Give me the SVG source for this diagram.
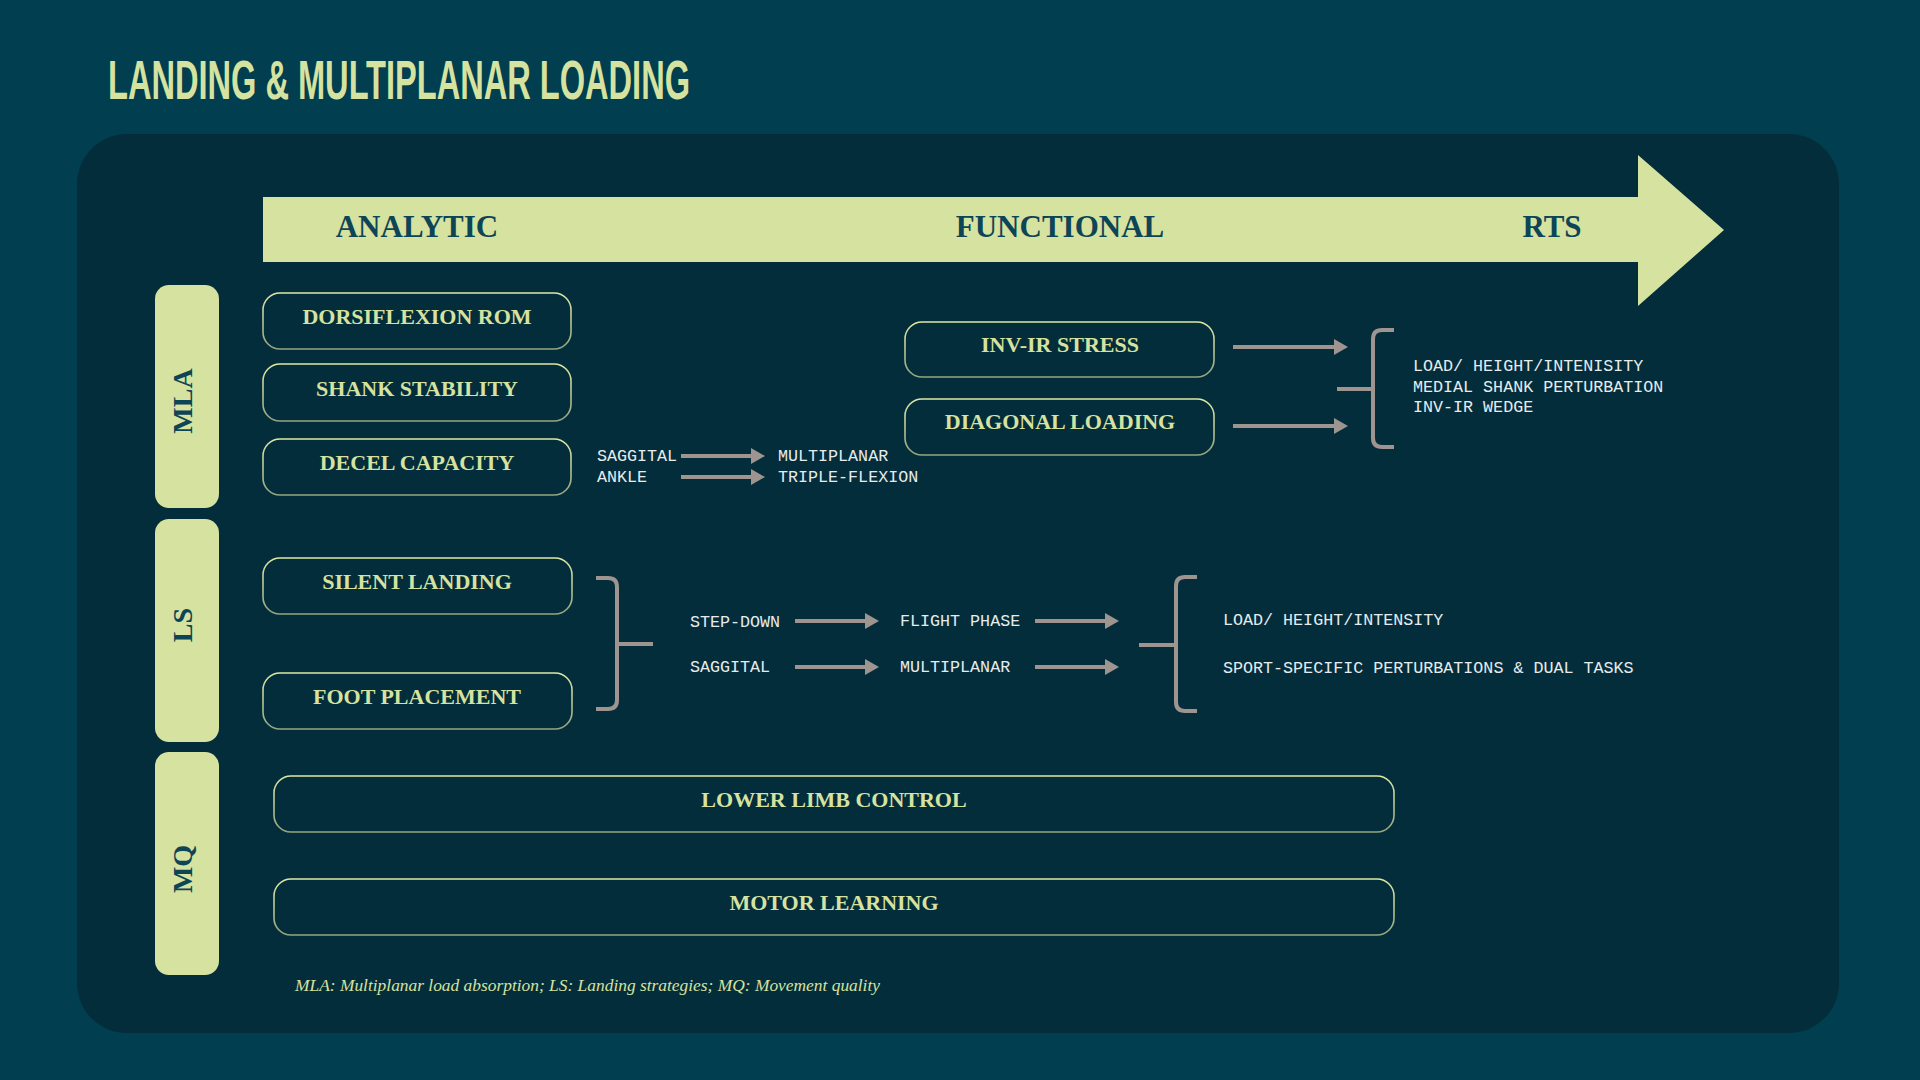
<svg xmlns="http://www.w3.org/2000/svg" width="1920" height="1080" viewBox="0 0 1920 1080">
  <defs>
    <linearGradient id="boxStroke" x1="0" y1="0" x2="0" y2="1">
      <stop offset="0" stop-color="#DDE8A4"/>
      <stop offset="1" stop-color="#95A47E"/>
    </linearGradient>
    <marker id="ah" viewBox="0 0 14 16" refX="1" refY="8" markerWidth="14" markerHeight="16" markerUnits="userSpaceOnUse" orient="auto">
      <path d="M0,0 L14,8 L0,16 Z" fill="#9E9490"/>
    </marker>
    <style>
      .title { font-family: "Liberation Sans", Arial, sans-serif; font-weight: bold; font-size: 56px; fill: #D6E29F; }
      .phase { font-family: "Liberation Serif", "Times New Roman", serif; font-weight: bold; font-size: 31px; fill: #0D4557; text-anchor: middle; }
      .tab { fill: #D6E29F; }
      .tabtxt { font-family: "Liberation Serif", "Times New Roman", serif; font-weight: bold; font-size: 28px; fill: #0D4557; text-anchor: middle; }
      .box { fill: #042D3C; stroke: url(#boxStroke); stroke-width: 1.6; }
      .boxtxt { font-family: "Liberation Serif", "Times New Roman", serif; font-weight: bold; font-size: 22px; fill: #D6E29F; text-anchor: middle; }
      .mono { font-family: "Liberation Mono", "DejaVu Sans Mono", monospace; font-size: 16.7px; fill: #E6ECEC; }
      .arrow { stroke: #9E9490; stroke-width: 4; fill: none; marker-end: url(#ah); }
      .bracket { stroke: #9E9490; stroke-width: 4; fill: none; }
      .note { font-family: "Liberation Serif", "Times New Roman", serif; font-style: italic; font-size: 17px; fill: #D6E29F; }
    </style>
  </defs>

  <rect x="0" y="0" width="1920" height="1080" fill="#003E50"/>
  <text class="title" x="108" y="99" textLength="582" lengthAdjust="spacingAndGlyphs">LANDING &amp; MULTIPLANAR LOADING</text>

  <rect x="77" y="134" width="1762" height="899" rx="50" fill="#042D3C"/>

  <g id="phase-arrow">
    <path d="M263,197 H1638 V155 L1724,230 L1638,306 V262 H263 Z" fill="#D6E29F"/>
    <text class="phase" x="417" y="237">ANALYTIC</text>
    <text class="phase" x="1060" y="237">FUNCTIONAL</text>
    <text class="phase" x="1552" y="237">RTS</text>
  </g>

  <g id="tab-mla">
    <rect class="tab" x="155" y="285" width="64" height="223" rx="14"/>
    <text class="tabtxt" transform="translate(192,401) rotate(-90)">MLA</text>
  </g>
  <g id="tab-ls">
    <rect class="tab" x="155" y="519" width="64" height="223" rx="14"/>
    <text class="tabtxt" transform="translate(192,625) rotate(-90)">LS</text>
  </g>
  <g id="tab-mq">
    <rect class="tab" x="155" y="752" width="64" height="223" rx="14"/>
    <text class="tabtxt" transform="translate(192,869) rotate(-90)">MQ</text>
  </g>

  <g id="node-dorsiflexion">
    <rect class="box" x="263" y="293" width="308" height="56" rx="17"/>
    <text class="boxtxt" x="417" y="324">DORSIFLEXION ROM</text>
  </g>
  <g id="node-shank">
    <rect class="box" x="263" y="364" width="308" height="57" rx="17"/>
    <text class="boxtxt" x="417" y="396">SHANK STABILITY</text>
  </g>
  <g id="node-decel">
    <rect class="box" x="263" y="439" width="308" height="56" rx="17"/>
    <text class="boxtxt" x="417" y="470">DECEL CAPACITY</text>
  </g>
  <g id="node-invir">
    <rect class="box" x="905" y="322" width="309" height="55" rx="17"/>
    <text class="boxtxt" x="1060" y="352">INV-IR STRESS</text>
  </g>
  <g id="node-diagonal">
    <rect class="box" x="905" y="399" width="309" height="56" rx="17"/>
    <text class="boxtxt" x="1060" y="429">DIAGONAL LOADING</text>
  </g>
  <g id="node-silent">
    <rect class="box" x="263" y="558" width="309" height="56" rx="17"/>
    <text class="boxtxt" x="417" y="589">SILENT LANDING</text>
  </g>
  <g id="node-foot">
    <rect class="box" x="263" y="673" width="309" height="56" rx="17"/>
    <text class="boxtxt" x="417" y="704">FOOT PLACEMENT</text>
  </g>
  <g id="node-lowerlimb">
    <rect class="box" x="274" y="776" width="1120" height="56" rx="17"/>
    <text class="boxtxt" x="834" y="807">LOWER LIMB CONTROL</text>
  </g>
  <g id="node-motor">
    <rect class="box" x="274" y="879" width="1120" height="56" rx="17"/>
    <text class="boxtxt" x="834" y="910">MOTOR LEARNING</text>
  </g>

  <g id="labels">
    <text class="mono" x="597" y="461">SAGGITAL</text>
    <text class="mono" x="597" y="482">ANKLE</text>
    <text class="mono" x="778" y="461">MULTIPLANAR</text>
    <text class="mono" x="778" y="482">TRIPLE-FLEXION</text>
    <text class="mono" x="1413" y="371">LOAD/ HEIGHT/INTENISITY</text>
    <text class="mono" x="1413" y="392">MEDIAL SHANK PERTURBATION</text>
    <text class="mono" x="1413" y="412">INV-IR WEDGE</text>
    <text class="mono" x="690" y="627">STEP-DOWN</text>
    <text class="mono" x="690" y="672">SAGGITAL</text>
    <text class="mono" x="900" y="626">FLIGHT PHASE</text>
    <text class="mono" x="900" y="672">MULTIPLANAR</text>
    <text class="mono" x="1223" y="625">LOAD/ HEIGHT/INTENSITY</text>
    <text class="mono" x="1223" y="673">SPORT-SPECIFIC PERTURBATIONS &amp; DUAL TASKS</text>
  </g>

  <g id="connectors">
    <line class="arrow" x1="681" y1="456" x2="752" y2="456"/>
    <line class="arrow" x1="681" y1="477" x2="752" y2="477"/>
    <line class="arrow" x1="1233" y1="347" x2="1335" y2="347"/>
    <line class="arrow" x1="1233" y1="426" x2="1335" y2="426"/>
    <line class="arrow" x1="795" y1="621" x2="866" y2="621"/>
    <line class="arrow" x1="795" y1="667" x2="866" y2="667"/>
    <line class="arrow" x1="1035" y1="621" x2="1106" y2="621"/>
    <line class="arrow" x1="1035" y1="667" x2="1106" y2="667"/>
    <path class="bracket" d="M1394,330 H1382 Q1373,330 1373,339 V438 Q1373,447 1382,447 H1394 M1337,389 H1373"/>
    <path class="bracket" d="M596,578 H608 Q617,578 617,587 V700 Q617,709 608,709 H596 M617,644 H653"/>
    <path class="bracket" d="M1197,577 H1185 Q1176,577 1176,586 V702 Q1176,711 1185,711 H1197 M1139,645 H1176"/>
  </g>

  <text class="note" x="295" y="991" textLength="585" lengthAdjust="spacingAndGlyphs">MLA: Multiplanar load absorption; LS: Landing strategies; MQ: Movement quality</text>
</svg>
